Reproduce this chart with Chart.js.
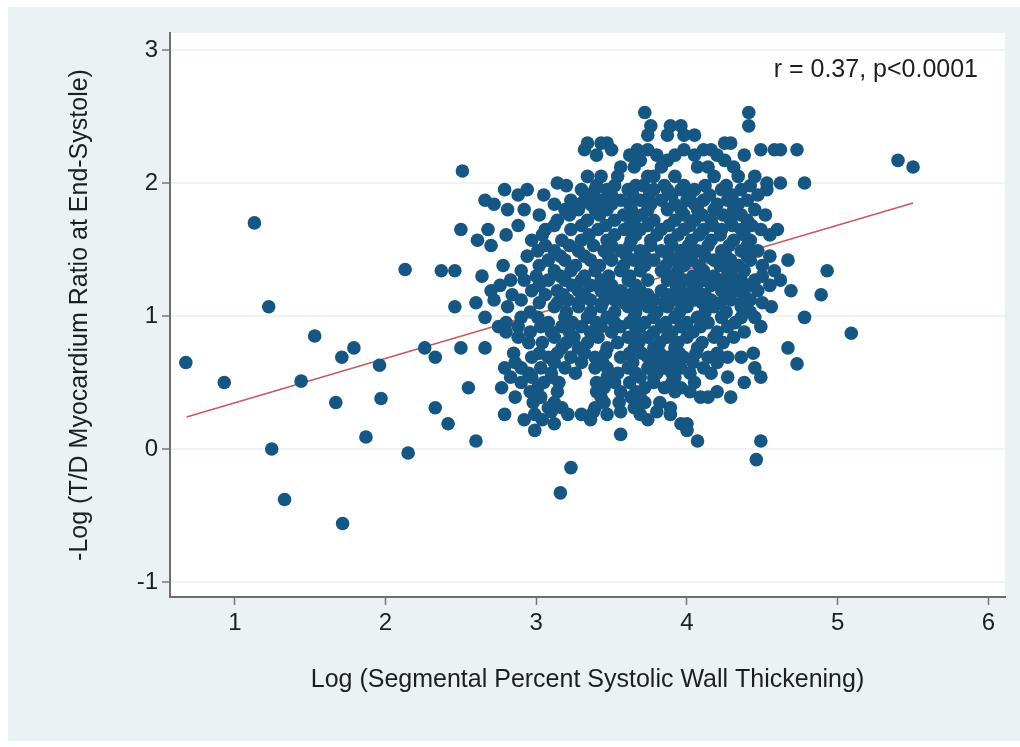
<!DOCTYPE html>
<html>
<head>
<meta charset="utf-8">
<script src="https://cdn.jsdelivr.net/npm/chart.js@4.4.1/dist/chart.umd.min.js"></script>
<style>
  html, body { margin: 0; padding: 0; background: #ffffff; }
</style>
</head>
<body>
<canvas id="grafika" width="1020" height="747"></canvas>
<script>
// ardatzak
const xTicks = [1, 2, 3, 4, 5, 6];
const yTicks = [-1, 0, 1, 2, 3];
const xTitle = 'Log (Segmental Percent Systolic Wall Thickening)';
const yTitle = '-Log (T/D Myocardium Ratio at End-Systole)';
const oharra = 'r = 0.37, p<0.0001';

// puntu bakanak ezkerrean [x, y]
const ezkerPuntuak = [
    [0.675, 0.65], [0.93, 0.50], [1.13, 1.70], [1.225, 1.07], [1.245, 0.00],
    [1.33, -0.38], [1.44, 0.51], [1.53, 0.85], [1.67, 0.35], [1.71, 0.69],
    [1.79, 0.76], [1.715, -0.56], [1.87, 0.09], [1.96, 0.63], [1.97, 0.38],
    [2.13, 1.35], [2.15, -0.03]
];

// puntu bakanak eskuinean eta behean [x, y]
const eskuinPuntuak = [
    [5.40, 2.17], [5.50, 2.12], [5.09, 0.87], [4.93, 1.34], [4.89, 1.16],
    [4.73, 0.64], [3.16, -0.33], [3.23, -0.14], [4.46, -0.08]
];

// multzo nagusia: errenkadaka irakurrita [y, [x...]]
const multzoErrenkadak = [
    [2.53, [3.72, 4.41]],
    [2.43, [3.76, 3.89, 3.96, 4.41]],
    [2.36, [3.74, 3.87, 3.98, 4.05]],
    [2.30, [3.34, 3.43, 3.47, 4.25, 4.29]],
    [2.25, [3.32, 3.50, 3.67, 3.74, 3.98, 4.11, 4.16, 4.49, 4.58, 4.62, 4.73]],
    [2.17, [3.69, 3.87, 4.25]],
    [2.12, [3.56, 3.65, 3.83, 4.07, 4.14, 4.31]],
    [2.09, [2.51]],
    [2.05, [3.34, 3.43, 3.54, 3.74, 3.78, 3.92, 4.18, 4.34, 4.45]],
    [2.00, [3.14, 4.53, 4.62, 4.78]],
    [1.95, [2.79, 2.94, 3.30, 3.39, 3.47, 3.61, 3.78, 3.87, 3.96, 4.05, 4.23, 4.36, 4.53]],
    [1.87, [2.66, 3.23, 3.32, 3.43, 3.56, 3.69, 3.83, 4.00, 4.11, 4.27, 4.40]],
    [1.80, [2.81, 2.92, 3.19, 3.28, 3.39, 3.47, 3.63, 3.74, 3.87, 3.96, 4.07, 4.18, 4.31, 4.45]],
    [1.72, [3.14, 3.34, 3.52, 3.65, 3.78, 3.92, 4.05, 4.16, 4.29, 4.40]],
    [1.65, [2.50, 2.68, 3.06, 3.23, 3.41, 3.585, 3.69, 3.83, 3.98, 4.11, 4.23, 4.36, 4.49, 4.60]],
    [1.57, [2.61, 2.97, 3.17, 3.30, 3.47, 3.63, 3.76, 3.89, 4.03, 4.16, 4.31, 4.42]],
    [1.49, [3.01, 3.12, 3.28, 3.45, 3.56, 3.69, 3.83, 3.96, 4.07, 4.23, 4.36, 4.47]],
    [1.42, [3.08, 3.19, 3.36, 3.50, 3.65, 3.78, 3.92, 4.03, 4.18, 4.29, 4.42, 4.67]],
    [1.34, [2.37, 2.46, 2.90, 3.12, 3.23, 3.39, 3.56, 3.69, 3.83, 3.94, 4.11, 4.27, 4.38, 4.58]],
    [1.27, [2.83, 2.92, 3.08, 3.19, 3.30, 3.43, 3.61, 3.74, 3.87, 3.98, 4.11, 4.23, 4.36, 4.45, 4.62]],
    [1.19, [2.70, 2.97, 3.14, 3.28, 3.43, 3.56, 3.69, 3.83, 3.96, 4.07, 4.23, 4.34, 4.47, 4.69]],
    [1.12, [2.72, 2.90, 3.21, 3.36, 3.52, 3.65, 3.78, 3.92, 4.05, 4.16, 4.29, 4.42]],
    [1.07, [2.46, 2.81, 3.12, 3.28, 3.43, 3.61, 3.74, 3.87, 4.00, 4.18, 4.36, 4.56]],
    [0.99, [2.66, 2.90, 3.01, 3.19, 3.34, 3.47, 3.65, 3.78, 3.92, 4.07, 4.23, 4.36, 4.45, 4.78]],
    [0.92, [2.75, 2.88, 3.03, 3.17, 3.30, 3.43, 3.56, 3.69, 3.83, 3.96, 4.09, 4.27, 4.49]],
    [0.84, [2.88, 3.12, 3.25, 3.41, 3.61, 3.74, 3.87, 4.00, 4.18, 4.31]],
    [0.76, [2.26, 2.50, 2.66, 3.17, 3.28, 3.47, 3.65, 3.78, 3.92, 4.07, 4.67]],
    [0.69, [2.33, 2.97, 3.08, 3.23, 3.39, 3.56, 3.74, 3.87, 3.98, 4.14, 4.27, 4.36]],
    [0.61, [2.79, 2.90, 3.03, 3.19, 3.39, 3.47, 3.61, 3.74, 3.85, 3.96, 4.11, 4.45]],
    [0.54, [2.83, 2.97, 3.10, 3.47, 3.69, 3.78, 3.92, 4.27, 4.49]],
    [0.46, [2.55, 2.77, 3.01, 3.45, 3.72, 3.85, 3.96]],
    [0.39, [2.86, 3.03, 3.43, 3.63, 3.69, 4.09, 4.14, 4.29]],
    [0.31, [2.33, 3.08, 3.17, 3.39, 3.65, 3.89]],
    [0.26, [2.79, 2.99, 3.21, 3.30, 3.47, 3.69, 3.89]],
    [0.19, [2.415, 3.12, 3.96, 4.00]],
    [0.14, [2.99, 4.00]],
    [0.11, [3.56]],
    [0.06, [2.60, 4.07, 4.49]]
];

// multzoaren barruko tarteko errenkadak [y, [x...]]
const tartekoErrenkadak = [
    [2.21, [3.40, 3.62, 3.80, 3.92, 4.05, 4.20, 4.38]],
    [1.98, [3.20, 3.40, 3.52, 3.66, 3.71, 3.85, 3.98, 4.12, 4.26, 4.42]],
    [1.91, [2.88, 3.05, 3.36, 3.50, 3.64, 3.75, 3.90, 4.02, 4.15, 4.30, 4.47]],
    [1.84, [2.72, 3.12, 3.26, 3.36, 3.50, 3.62, 3.76, 3.92, 4.05, 4.20, 4.34]],
    [1.76, [3.02, 3.22, 3.42, 3.58, 3.70, 3.98, 4.10, 4.24, 4.36, 4.52]],
    [1.68, [2.88, 3.12, 3.30, 3.46, 3.62, 3.74, 3.88, 4.02, 4.17, 4.30, 4.43]],
    [1.61, [2.80, 3.04, 3.35, 3.52, 3.66, 3.80, 3.94, 4.08, 4.22, 4.38, 4.55]],
    [1.53, [2.70, 3.06, 3.22, 3.38, 3.50, 3.62, 3.76, 3.90, 4.01, 4.14, 4.28, 4.40]],
    [1.45, [2.94, 3.16, 3.32, 3.48, 3.60, 3.72, 3.88, 4.00, 4.12, 4.26, 4.40, 4.55]],
    [1.38, [2.78, 3.02, 3.26, 3.42, 3.58, 3.72, 3.86, 3.98, 4.08, 4.22, 4.34, 4.50]],
    [1.30, [2.64, 3.00, 3.16, 3.32, 3.48, 3.62, 3.90, 4.04, 4.18, 4.30, 4.50]],
    [1.23, [2.76, 3.02, 3.24, 3.36, 3.50, 3.66, 3.93, 4.04, 4.16, 4.29, 4.41, 4.55]],
    [1.16, [2.84, 3.06, 3.18, 3.32, 3.48, 3.62, 3.74, 3.88, 4.00, 4.12, 4.28, 4.38]],
    [1.10, [2.60, 3.02, 3.14, 3.28, 3.44, 3.58, 3.70, 3.85, 3.98, 4.10, 4.22, 4.36, 4.50]],
    [1.03, [2.96, 3.20, 3.36, 3.52, 3.66, 3.80, 3.95, 4.12, 4.26, 4.42]],
    [0.95, [2.80, 3.08, 3.24, 3.40, 3.52, 3.62, 3.72, 3.86, 4.00, 4.14, 4.32]],
    [0.88, [2.80, 2.96, 3.10, 3.22, 3.36, 3.50, 3.66, 3.78, 3.90, 4.04, 4.20, 4.38]],
    [0.80, [2.95, 3.04, 3.20, 3.34, 3.54, 3.68, 3.82, 3.94, 4.10, 4.24]],
    [0.72, [2.85, 3.02, 3.14, 3.32, 3.46, 3.62, 3.70, 3.82, 3.95, 4.06, 4.20, 4.44]],
    [0.65, [2.86, 3.12, 3.30, 3.44, 3.64, 3.80, 3.92, 4.04, 4.20]],
    [0.57, [2.95, 3.10, 3.26, 3.54, 3.66, 3.80, 3.90, 4.02, 4.16]],
    [0.50, [2.90, 3.05, 3.15, 3.40, 3.52, 3.62, 3.78, 3.90, 4.05, 4.38]],
    [0.43, [2.96, 3.14, 3.40, 3.56, 3.66, 3.92, 4.02, 4.20]],
    [0.35, [2.98, 3.12, 3.45, 3.55, 3.72, 3.82]],
    [0.28, [3.10, 3.38, 3.56, 3.80]],
    [0.22, [2.92, 3.04, 3.36, 3.74]]
];

// erregresio zuzena
const fitX = [0.68, 5.50];
const fitY = [0.24, 1.85];

const puntuak = [];
ezkerPuntuak.forEach(p => puntuak.push({ x: p[0], y: p[1] }));
multzoErrenkadak.forEach(r => r[1].forEach(x => puntuak.push({ x: x, y: r[0] })));
tartekoErrenkadak.forEach(r => r[1].forEach(x => puntuak.push({ x: x, y: r[0] })));
eskuinPuntuak.forEach(p => puntuak.push({ x: p[0], y: p[1] }));

const zuzena = fitX.map((x, i) => ({ x: x, y: fitY[i] }));

const atzekoa = {
    id: 'atzekoa',
    beforeDraw(chart) {
        const { ctx, chartArea: a } = chart;
        ctx.save();
        ctx.fillStyle = '#ffffff';
        ctx.fillRect(0, 0, chart.width, chart.height);
        ctx.fillStyle = '#eaf2f3';
        ctx.fillRect(8, 7, chart.width - 8, chart.height - 13);
        ctx.fillStyle = '#ffffff';
        ctx.fillRect(a.left, a.top, a.right - a.left, a.bottom - a.top);
        ctx.restore();
    },
    afterDraw(chart) {
        const { ctx, chartArea: a } = chart;
        ctx.save();
        ctx.font = '25px "Liberation Sans", Arial, sans-serif';
        ctx.fillStyle = '#1e1e1e';
        ctx.textAlign = 'right';
        ctx.textBaseline = 'middle';
        ctx.fillText(oharra, a.right - 27, 70);
        ctx.restore();
    }
};

Chart.defaults.font.family = '"Liberation Sans", Arial, Helvetica, sans-serif';
Chart.defaults.color = '#1e1e1e';

new Chart(document.getElementById('grafika'), {
    type: 'scatter',
    data: {
        datasets: [
            {
                type: 'line',
                data: zuzena,
                borderColor: '#c75a60',
                borderWidth: 1.6,
                pointRadius: 0,
                fill: false,
                order: 2
            },
            {
                data: puntuak,
                backgroundColor: '#165682',
                borderColor: '#165682',
                borderWidth: 0,
                pointRadius: 6.8,
                pointHoverRadius: 6.8,
                order: 1
            }
        ]
    },
    options: {
        responsive: false,
        animation: false,
        layout: { padding: { left: 61, top: 33, right: 15, bottom: 48 } },
        plugins: { legend: { display: false }, tooltip: { enabled: false } },
        scales: {
            x: {
                type: 'linear',
                min: 0.57,
                max: 6.11,
                afterFit(s) { s.height = 102; },
                afterBuildTicks(s) { s.ticks = xTicks.map(v => ({ value: v })); },
                ticks: { font: { size: 24 }, padding: 4, includeBounds: false },
                grid: { drawOnChartArea: false, tickLength: 8, tickColor: '#777777', tickWidth: 1.5 },
                border: { display: true, color: '#6e6e6e', width: 2 },
                title: { display: true, text: xTitle, font: { size: 25 }, padding: { top: 4, bottom: 4 } }
            },
            y: {
                type: 'linear',
                min: -1.113,
                max: 3.128,
                afterFit(s) { s.width = 109; },
                afterBuildTicks(s) { s.ticks = yTicks.map(v => ({ value: v })); },
                ticks: { font: { size: 24 }, padding: 4, includeBounds: false },
                grid: { color: '#edf4f4', lineWidth: 2, tickLength: 8, tickColor: '#777777', tickWidth: 1.5 },
                border: { display: true, color: '#6e6e6e', width: 2 },
                title: { display: true, text: yTitle, font: { size: 25 }, padding: { top: 4, bottom: 4 } }
            }
        }
    },
    plugins: [atzekoa]
});
</script>
</body>
</html>
